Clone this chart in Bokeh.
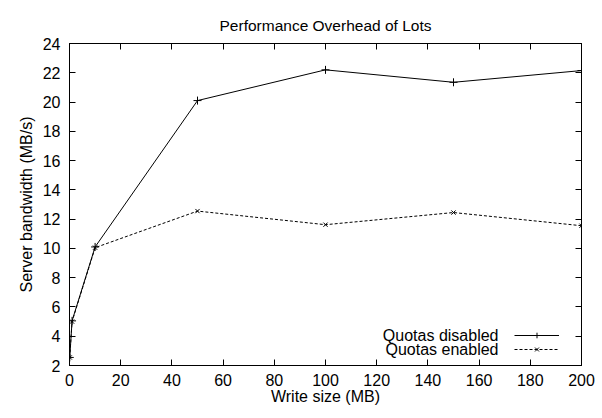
from bokeh.plotting import figure
from bokeh.models import (LinearAxis, Range1d, FixedTicker, Legend, LegendItem, Label)
from bokeh.embed import file_html
from bokeh.resources import INLINE

# ---- data ----
write_size = [0.1, 1, 10, 50, 100, 150, 200]
quotas_disabled = [2.55, 5.05, 10.1, 20.1, 22.2, 21.35, 22.15]
quotas_enabled = [2.55, 5.0, 10.05, 12.55, 11.62, 12.45, 11.55]
x_ticks = [0, 20, 40, 60, 80, 100, 120, 140, 160, 180, 200]
y_ticks = [2, 4, 6, 8, 10, 12, 14, 16, 18, 20, 22, 24]
title_text = "Performance Overhead of Lots"
x_label = "Write size (MB)"
y_label = "Server bandwidth (MB/s)"
series_names = ["Quotas disabled", "Quotas enabled"]

FONT = "Liberation Sans"
FS = "16px"

p = figure(frame_width=512, frame_height=322, output_backend="svg", toolbar_location=None,
           x_range=Range1d(0, 200), y_range=Range1d(2, 24),
           min_border_left=69, min_border_right=21, min_border_top=43, min_border_bottom=45)

p.title.text = title_text
p.title.align = "center"
p.title.text_font = FONT
p.title.text_font_size = "15.5px"
p.title.text_font_style = "normal"
p.title.text_color = "black"
p.title.standoff = 20

p.xgrid.visible = False
p.ygrid.visible = False
p.outline_line_color = "black"
p.outline_line_width = 1
p.background_fill_color = "white"
p.border_fill_color = "white"

def style_axis(ax, ticks, show_labels):
    ax.ticker = FixedTicker(ticks=ticks)
    ax.major_tick_in = 6
    ax.major_tick_out = 0
    ax.minor_tick_line_color = None
    ax.axis_line_color = "black"
    ax.major_tick_line_color = "black"
    ax.major_label_text_font = FONT
    if show_labels:
        ax.major_label_text_font_size = FS
        ax.major_label_text_color = "black"
    else:
        ax.major_label_text_font_size = "1px"
        ax.major_label_text_color = None
        ax.major_label_standoff = 0

xa = p.xaxis[0]
ya = p.yaxis[0]
style_axis(xa, x_ticks, True)
style_axis(ya, y_ticks, True)
xa.major_label_standoff = 8
ya.major_label_standoff = 9
xa.axis_label = x_label
ya.axis_label = y_label
for ax in (xa, ya):
    ax.axis_label_text_font = FONT
    ax.axis_label_text_font_size = FS
    ax.axis_label_text_font_style = "normal"
    ax.axis_label_text_color = "black"
xa.axis_label_standoff = -1
ya.axis_label_standoff = 5

top = LinearAxis()
right = LinearAxis()
style_axis(top, x_ticks, False)
style_axis(right, y_ticks, False)
p.add_layout(top, "above")
p.add_layout(right, "right")

l1 = p.line(write_size, quotas_disabled, line_color="black", line_width=1)
m1 = p.scatter(write_size, quotas_disabled, marker="cross", size=8, line_color="black", line_width=1)
l2 = p.line(write_size, quotas_enabled, line_color="black", line_width=1, line_dash="3 2")
m2 = p.scatter(write_size, quotas_enabled, marker="x", size=6, line_color="black", line_width=1)

legend = Legend(items=[LegendItem(label=" ", renderers=[l1, m1]),
                       LegendItem(label=" ", renderers=[l2, m2])],
                location=(445, 9), orientation="vertical",
                glyph_width=45, glyph_height=14, spacing=0, padding=0, margin=0,
                label_width=0, label_standoff=0, label_height=0,
                background_fill_alpha=0, border_line_color=None,
                label_text_font_size="1px")
p.add_layout(legend, "center")

p.add_layout(Label(x=429, y=30.5, x_units="screen", y_units="screen", text=series_names[0],
                   text_align="right", text_baseline="middle", text_font=FONT,
                   text_font_size=FS, text_color="black"))
p.add_layout(Label(x=429, y=16.5, x_units="screen", y_units="screen", text=series_names[1],
                   text_align="right", text_baseline="middle", text_font=FONT,
                   text_font_size=FS, text_color="black"))

open("out.html", "w").write(file_html(p, INLINE))
